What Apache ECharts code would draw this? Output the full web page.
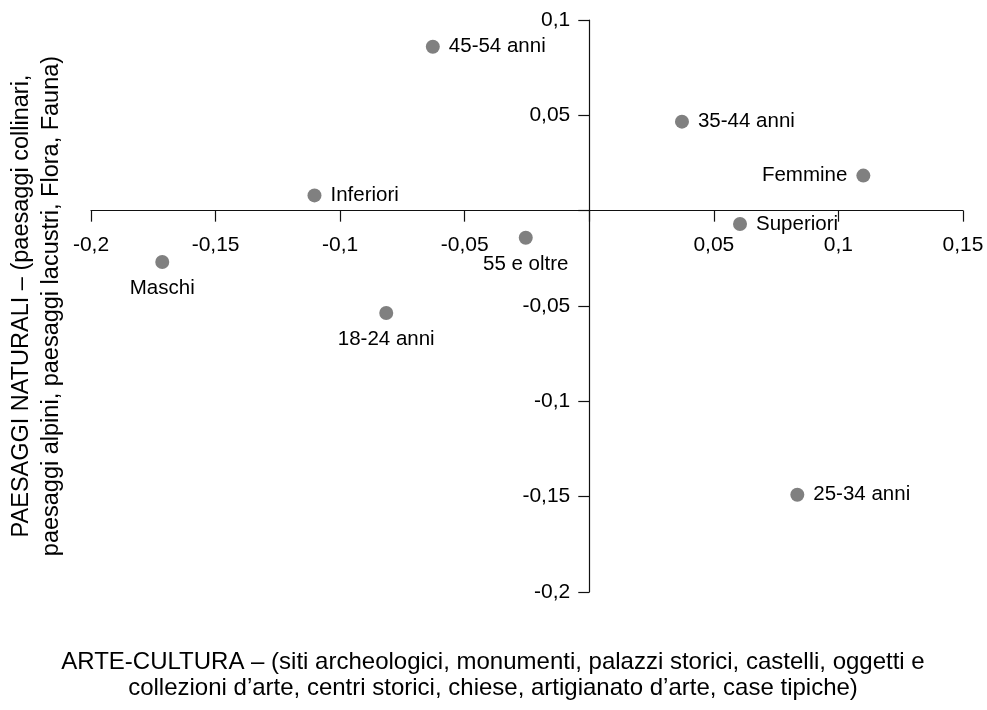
<!DOCTYPE html>
<html>
<head>
<meta charset="utf-8">
<script src="https://cdn.jsdelivr.net/npm/echarts@6/dist/echarts.min.js"></script>
<style>
  html, body { margin: 0; padding: 0; background: #fff; }
  #chart { width: 987px; height: 710px; }
</style>
</head>
<body>
<div id="chart"></div>
<script>
// gruppi e coordinate (asse X: arte-cultura, asse Y: paesaggi naturali)
const names = ['45-54 anni', '35-44 anni', 'Femmine', 'Inferiori', 'Superiori', '55 e oltre', 'Maschi', '18-24 anni', '25-34 anni']
const xValues = [-0.0628, 0.0372, 0.110, -0.1103, 0.0605, -0.0255, -0.1714, -0.0815, 0.0835]
const yValues = [0.0860, 0.0467, 0.0184, 0.0080, -0.0070, -0.0142, -0.0269, -0.0537, -0.149]
const labelSide = ['right', 'right', 'left', 'right', 'right', 'bottom', 'bottom', 'bottom', 'right']

const xTitle = 'ARTE-CULTURA – (siti archeologici, monumenti, palazzi storici, castelli, oggetti e\ncollezioni d’arte, centri storici, chiese, artigianato d’arte, case tipiche)'
const yTitle = 'PAESAGGI NATURALI – (paesaggi collinari,\npaesaggi alpini, paesaggi lacustri, Flora, Fauna)'

const xMin = -0.2, xMax = 0.15
const yMin = -0.2, yMax = 0.1

const font = '"Liberation Sans", Arial, Helvetica, sans-serif'
const ink = '#000'

const fmt = v => {
    if (Math.abs(v) < 1e-9) return ''
    return String(parseFloat(v.toFixed(2))).replace('.', ',')
}

// griglia: gli assi si incrociano nello zero, spostati con offset
const W = 987, H = 710
const grid = { left: 91, right: 24, top: 20, bottom: 118 }
const gridW = W - grid.left - grid.right
const gridH = H - grid.top - grid.bottom
const xOffset = -gridH * (0 - yMin) / (yMax - yMin)
const yOffset = -gridW * (0 - xMin) / (xMax - xMin)

const chart = echarts.init(document.getElementById('chart'))

const points = names.map((n, i) => ({
    name: n,
    value: [xValues[i], yValues[i]],
    label: { position: labelSide[i] }
}))

const axisCommon = {
    type: 'value',
    interval: 0.05,
    splitLine: { show: false },
    axisLine: { show: true, onZero: false, lineStyle: { color: '#111', width: 1.2 } },
    axisTick: { show: true, length: 11, lineStyle: { color: '#111', width: 1.2 } },
    axisLabel: { formatter: fmt, color: ink, fontSize: 21, fontFamily: font, showMinLabel: true, showMaxLabel: true }
}

const option = {
    animation: false,
    grid: grid,
    xAxis: Object.assign({}, axisCommon, { min: xMin, max: xMax, position: 'bottom', offset: xOffset }),
    yAxis: Object.assign({}, axisCommon, { min: yMin, max: yMax, position: 'left', offset: yOffset }),
    series: [
        {
            type: 'scatter',
            symbolSize: 14,
            itemStyle: { color: '#808080', opacity: 1 },
            label: {
                show: true,
                formatter: '{b}',
                distance: 9,
                color: ink,
                fontSize: 20.5,
                fontFamily: font
            },
            data: points
        }
    ],
    graphic: [
        {
            type: 'text',
            x: 37,
            y: 306,
            rotation: Math.PI / 2,
            style: {
                text: yTitle,
                fill: ink,
                font: '23.5px ' + font,
                lineHeight: 30,
                align: 'center',
                verticalAlign: 'middle'
            }
        },
        {
            type: 'text',
            x: 493,
            y: 675,
            style: {
                text: xTitle,
                fill: ink,
                font: '24px ' + font,
                lineHeight: 26,
                align: 'center',
                verticalAlign: 'middle'
            }
        }
    ]
}
option.xAxis.axisLabel = Object.assign({}, axisCommon.axisLabel, { margin: 24 })
option.yAxis.axisLabel = Object.assign({}, axisCommon.axisLabel, { margin: 19 })

chart.setOption(option)

window.addEventListener('resize', () => {
    chart.resize()
})
</script>
</body>
</html>
